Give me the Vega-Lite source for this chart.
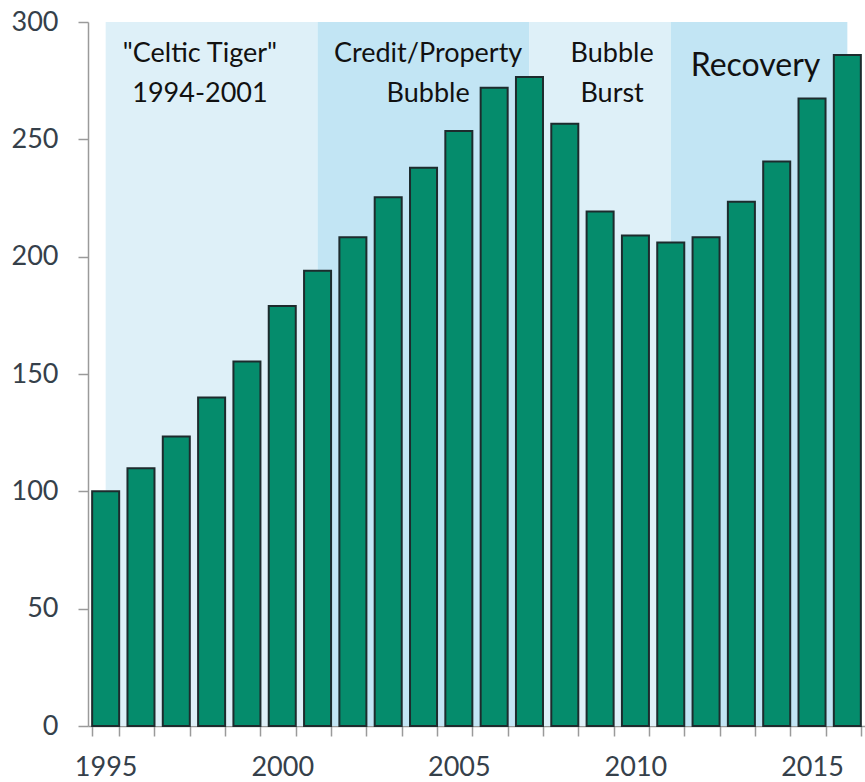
{
  "$schema": "https://vega.github.io/schema/vega-lite/v6.json",
  "width": 777,
  "height": 704,
  "autosize": "none",
  "padding": {"left": 88, "top": 22, "right": 0, "bottom": 56},
  "background": "white",
  "config": {
    "view": {"stroke": null},
    "font": "Lato"
  },
  "datasets": {
    "index": [
      {"year": "1995", "value": 100},
      {"year": "1996", "value": 109.8},
      {"year": "1997", "value": 123.4},
      {"year": "1998", "value": 140},
      {"year": "1999", "value": 155.3},
      {"year": "2000", "value": 179},
      {"year": "2001", "value": 194},
      {"year": "2002", "value": 208.3},
      {"year": "2003", "value": 225.3},
      {"year": "2004", "value": 237.9},
      {"year": "2005", "value": 253.6},
      {"year": "2006", "value": 272},
      {"year": "2007", "value": 276.6},
      {"year": "2008", "value": 256.6},
      {"year": "2009", "value": 219.2},
      {"year": "2010", "value": 209},
      {"year": "2011", "value": 206},
      {"year": "2012", "value": 208.3},
      {"year": "2013", "value": 223.4},
      {"year": "2014", "value": 240.6},
      {"year": "2015", "value": 267.4},
      {"year": "2016", "value": 285.9}
    ],
    "phases": [
      {"start": 1995, "end": 2001, "shade": "light"},
      {"start": 2001, "end": 2007, "shade": "dark"},
      {"start": 2007, "end": 2011, "shade": "light"},
      {"start": 2011, "end": 2016, "shade": "dark"}
    ],
    "labels": [
      {"x": 1997.67, "y": 286.3, "text": "\"Celtic Tiger\""},
      {"x": 1997.67, "y": 269.3, "text": "1994-2001"},
      {"x": 2004.13, "y": 286.3, "text": "Credit/Property"},
      {"x": 2004.13, "y": 269.3, "text": "Bubble"},
      {"x": 2009.34, "y": 286.3, "text": "Bubble"},
      {"x": 2009.34, "y": 269.3, "text": "Burst"}
    ],
    "big": [
      {"x": 2013.4, "y": 281.2, "text": "Recovery"}
    ]
  },
  "resolve": {"scale": {"x": "independent"}, "axis": {"x": "independent"}},
  "layer": [
    {
      "data": {"name": "phases"},
      "mark": {"type": "rect"},
      "encoding": {
        "x": {"field": "start", "type": "quantitative", "scale": {"domain": [1994.5, 2016.5], "nice": false, "zero": false}, "axis": null},
        "x2": {"field": "end"},
        "y": {"datum": 300, "type": "quantitative", "scale": {"domain": [0, 300]}},
        "y2": {"datum": 0},
        "color": {"field": "shade", "type": "nominal", "scale": {"domain": ["light", "dark"], "range": ["#def0f8", "#c2e5f4"]}, "legend": null}
      }
    },
    {
      "mark": {"type": "rule", "color": "#9a9a9a", "strokeWidth": 1.5},
      "encoding": {
        "y": {"datum": 300, "type": "quantitative"}
      }
    },
    {
      "data": {"name": "index"},
      "mark": {"type": "bar", "color": "#058c6c", "stroke": "#1d2b2d", "strokeWidth": 2},
      "encoding": {
        "x": {
          "field": "year", "type": "ordinal",
          "scale": {"paddingInner": 0.235, "paddingOuter": 0.1175},
          "axis": {
            "title": null,
            "labelAngle": 0,
            "labelExpr": "toNumber(datum.value) % 5 == 0 ? datum.label : ''",
            "tickBand": "extent",
            "domainColor": "#9a9a9a",
            "domainWidth": 1.5,
            "tickColor": "#9a9a9a",
            "tickWidth": 1.5,
            "tickSize": 10,
            "labelPadding": 18,
            "labelFontSize": 27,
            "labelColor": "#35404a",
            "labelFont": "Lato",
            "labelOverlap": false
          }
        },
        "y": {
          "field": "value", "type": "quantitative",
          "scale": {"domain": [0, 300], "nice": false},
          "axis": {
            "title": null,
            "values": [0, 50, 100, 150, 200, 250, 300],
            "grid": false,
            "domainColor": "#9a9a9a",
            "domainWidth": 1.5,
            "tickColor": "#9a9a9a",
            "tickWidth": 1.5,
            "tickSize": 10,
            "labelPadding": 20,
            "labelFontSize": 27,
            "labelColor": "#35404a",
            "labelFont": "Lato"
          }
        }
      }
    },
    {
      "data": {"name": "labels"},
      "mark": {"type": "text", "fontSize": 27, "color": "#111111", "font": "Lato", "baseline": "middle", "align": "center"},
      "encoding": {
        "x": {"field": "x", "type": "quantitative", "scale": {"domain": [1994.5, 2016.5], "nice": false, "zero": false}, "axis": null},
        "y": {"field": "y", "type": "quantitative"},
        "text": {"field": "text"}
      }
    },
    {
      "data": {"name": "big"},
      "mark": {"type": "text", "fontSize": 32, "color": "#111111", "font": "Lato", "baseline": "middle", "align": "center"},
      "encoding": {
        "x": {"field": "x", "type": "quantitative", "scale": {"domain": [1994.5, 2016.5], "nice": false, "zero": false}, "axis": null},
        "y": {"field": "y", "type": "quantitative"},
        "text": {"field": "text"}
      }
    }
  ]
}
